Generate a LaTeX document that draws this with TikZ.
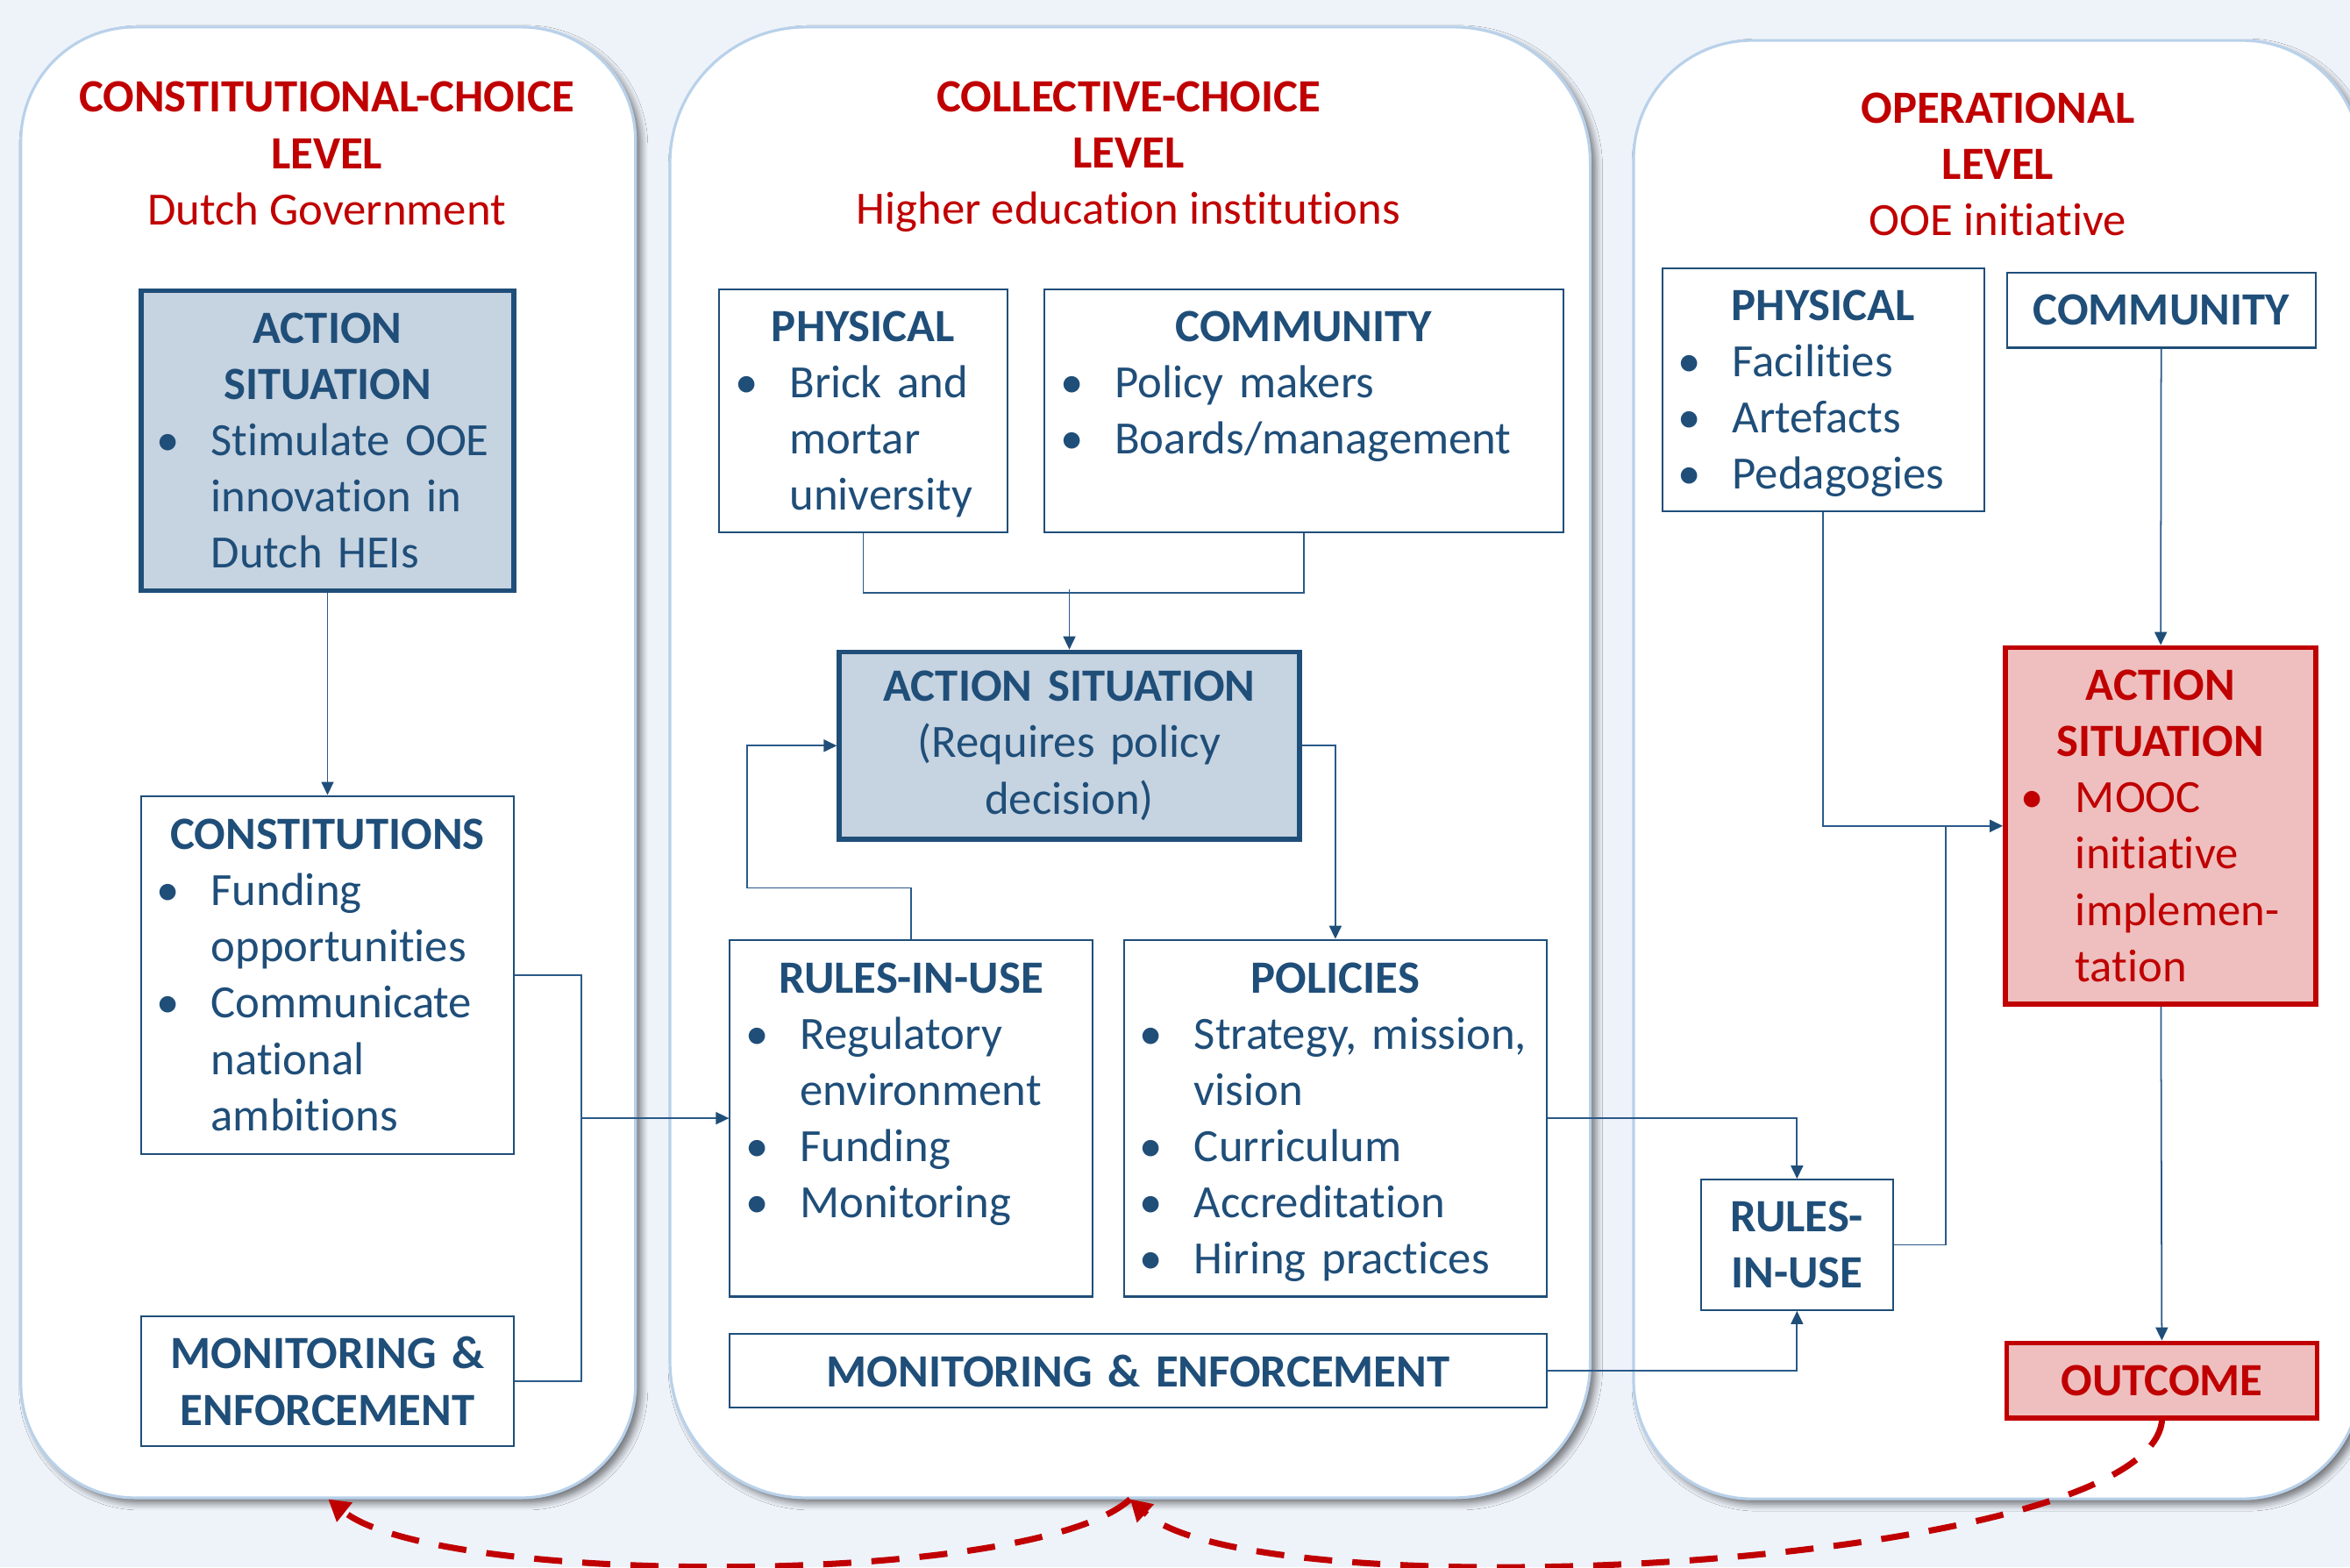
\documentclass[tikz,border=0pt]{standalone}
\usepackage{fontspec}
\setmainfont{Carlito}[Ligatures=NoCommon]
\usepackage{xcolor}
\usepackage{tikz}
\usetikzlibrary{arrows.meta,shadows.blur}
\definecolor{levelBlue}{HTML}{1F4E79}
\definecolor{levelWire}{HTML}{2A5A8A}
\definecolor{levelRed}{HTML}{C00000}
\definecolor{levelSlate}{HTML}{C6D3E0}
\definecolor{levelPink}{HTML}{EFBFBF}
\definecolor{levelPage}{HTML}{EEF3FA}
\definecolor{levelEdge}{HTML}{B9D1EA}
\newcommand{\levelfont}{\fontsize{15}{18.24}\selectfont}
% centred bold heading line inside a left-aligned box
\newcommand{\boxhead}[1]{\hfill\textbf{#1}\hfill\null\par}
% bullet item, \\ breaks keep the hanging indent
\newcommand{\bitem}[1]{\par{\let\\\newline\hangindent=6.5mm\hangafter=1\noindent\makebox[6.5mm][l]{\hspace{0.3mm}\textbullet}#1\par}}
% drop the descender depth of the last line so the list sits centred
\newcommand{\listend}{\par\kern-\prevdepth}
\tikzset{
  panel/.style={
    rectangle,
    draw=levelEdge,
    fill=white,
    line width=0.9pt,
    blur shadow={shadow xshift=0.6mm, shadow yshift=-0.6mm, shadow blur radius=0.8mm, shadow blur steps=6, shadow opacity=55}
  },
  panelTitle/.style={
    align=center,
    text=levelRed,
    font=\levelfont,
    inner sep=0pt
  },
  ruleBox/.style={
    rectangle,
    draw=levelBlue,
    fill=white,
    line width=0.6pt,
    text=levelBlue,
    font=\levelfont,
    inner xsep=1.5mm,
    inner ysep=0pt,
    align=left
  },
  ruleBoxCentred/.style={
    ruleBox,
    align=center,
    font=\levelfont\bfseries
  },
  actionBox/.style={
    ruleBox,
    fill=levelSlate,
    line width=1.6pt
  },
  actionRedBox/.style={
    ruleBox,
    draw=levelRed,
    fill=levelPink,
    text=levelRed,
    line width=1.6pt
  },
  arrow/.style={
    -{Triangle[length=1.5mm,width=1.4mm,color=levelBlue]},
    line width=0.5pt,
    draw=levelWire
  },
  joinLine/.style={
    line width=0.5pt,
    draw=levelWire
  },
  feedbackArrow/.style={
    draw=levelRed,
    line width=2pt,
    dash pattern=on 3.2mm off 2.3mm,
    -{Triangle[length=2.4mm,width=2.7mm]}
  }
}

\begin{document}
\begin{tikzpicture}
  \useasboundingbox (0,0) rectangle (26.8,-17.87);
  \fill[levelPage] (0,0) rectangle (26.8,-17.87);

  % the three levels
  \node[panel,rounded corners=13mm,minimum width=70.1mm,minimum height=167.7mm] (constitutional) at (3.743,-8.694) {};
  \node[panel,rounded corners=15.5mm,minimum width=104.95mm,minimum height=167.7mm] (collective) at (12.888,-8.694) {};
  \node[panel,rounded corners=13.5mm,minimum width=82.9mm,minimum height=166.3mm] (operational) at (22.775,-8.776) {};

  \node[panelTitle] (constTitle) at (3.726,-1.75) {\textbf{CONSTITUTIONAL-CHOICE}\\\textbf{LEVEL}\\Dutch Government};
  \node[panelTitle] (collTitle) at (12.87,-1.79) {\textbf{COLLECTIVE-CHOICE}\\\textbf{LEVEL}\\Higher education institutions};
  \node[panelTitle] (operTitle) at (22.784,-1.875) {\textbf{OPERATIONAL}\\\textbf{LEVEL}\\OOE initiative};

  % constitutional-choice level
  \node[actionBox,text width=39.56mm,minimum height=34.18mm] (stimulate) at (3.735,-5.025) {\boxhead{ACTION}\boxhead{SITUATION}\bitem{Stimulate OOE\\innovation in\\Dutch HEIs}};
  \node[ruleBox,text width=39.56mm,minimum height=40.85mm] (constitutions) at (3.735,-11.118) {\boxhead{CONSTITUTIONS}\bitem{Funding\\opportunities}\bitem{Communicate\\national\\ambitions}};
  \node[ruleBoxCentred,text width=39.56mm,minimum height=14.87mm] (monitorGov) at (3.735,-15.75) {MONITORING \&\\ENFORCEMENT};

  % collective-choice level
  \node[ruleBox,text width=29.82mm,minimum height=27.69mm] (physicalHei) at (9.845,-4.683) {\boxhead{PHYSICAL}\bitem{Brick and\\mortar\\university}\listend};
  % spare last line keeps the list at the top
  \node[ruleBox,text width=56.14mm,minimum height=27.69mm] (communityHei) at (14.87,-4.683) {\boxhead{COMMUNITY}\bitem{Policy makers}\bitem{Boards/management}\par\mbox{}};
  \node[actionBox,align=center,text width=49.47mm,minimum height=21.37mm] (policyCall) at (12.195,-8.503) {\textbf{ACTION SITUATION}\\(Requires policy\\decision)};
  \node[ruleBox,text width=38.36mm,minimum height=40.68mm] (rulesHei) at (10.392,-12.751) {\boxhead{RULES-IN-USE}\bitem{Regulatory\\environment}\bitem{Funding}\bitem{Monitoring}\par\mbox{}};
  \node[ruleBox,text width=45.2mm,minimum height=40.68mm] (policies) at (15.229,-12.751) {\boxhead{POLICIES}\bitem{Strategy, mission,\\vision}\bitem{Curriculum}\bitem{Accreditation}\bitem{Hiring practices}\listend};
  \node[ruleBoxCentred,text width=90.15mm,minimum height=8.37mm] (monitorHei) at (12.981,-15.631) {MONITORING \& ENFORCEMENT};

  % operational level
  \node[ruleBox,text width=33.75mm,minimum height=27.69mm] (physicalOoe) at (20.793,-4.444) {\boxhead{PHYSICAL}\bitem{Facilities}\bitem{Artefacts}\bitem{Pedagogies}\listend};
  \node[ruleBoxCentred,text width=32.21mm,minimum height=8.55mm] (communityOoe) at (24.647,-3.538) {COMMUNITY};
  \node[actionRedBox,text width=32.38mm,minimum height=40.68mm] (mooc) at (24.638,-9.418) {\boxhead{ACTION}\boxhead{SITUATION}\bitem{MOOC\\initiative\\implemen-\\tation}};
  \node[ruleBoxCentred,text width=18.88mm,minimum height=14.87mm] (rulesOoe) at (20.493,-14.195) {RULES-\\IN-USE};
  \node[actionRedBox,align=center,font=\levelfont\bfseries,text width=32.38mm,minimum height=8.55mm] (outcome) at (24.655,-15.742) {OUTCOME};

  % connectors
  \coordinate (railGov) at (6.632,0);
  \draw[arrow] (stimulate) -- (constitutions);
  \draw[joinLine] (constitutions.east) -| (railGov |- monitorGov.east) -- (monitorGov.east);
  \draw[arrow] (railGov |- rulesHei.west) -- (rulesHei.west);

  \draw[joinLine] (physicalHei.south) -- ++(0,-0.683) -| (communityHei.south);
  \draw[arrow] ([yshift=6.84mm]policyCall.north) -- (policyCall.north);
  \draw[arrow] (rulesHei.north) -- ++(0,0.581) -| ([xshift=-10.26mm]policyCall.west) -- (policyCall.west);
  \draw[arrow] (policyCall.east) -| (policies.north);
  \draw[arrow] (policies.east) -| (rulesOoe.north);
  \draw[arrow] (monitorHei.east) -| (rulesOoe.south);

  \draw[arrow] (physicalOoe.south) |- (mooc.west);
  \draw[joinLine] (rulesOoe.east) -| ([xshift=-6.49mm]mooc.west);
  \draw[arrow] (communityOoe) -- (mooc);
  \draw[arrow] (mooc) -- (outcome);

  % feedback between levels
  \draw[feedbackArrow] (outcome.south) .. controls (24.5,-17.9) and (14.3,-18.4) .. (collective.south);
  \draw[feedbackArrow] (collective.south) .. controls (11.8,-18.1) and (5.0,-18.1) .. (constitutional.south);
\end{tikzpicture}
\end{document}
